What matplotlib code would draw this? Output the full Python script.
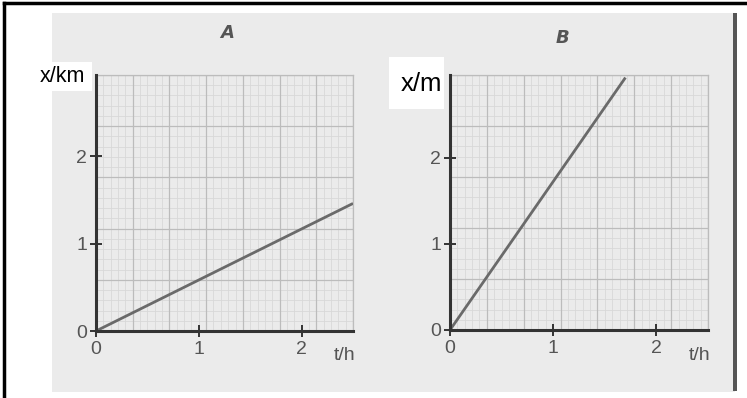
import numpy as np
import matplotlib.pyplot as plt
from matplotlib.patches import Rectangle

# panel A: x in km against t in h
t_a = [0, 2.5]
x_a = [0, 1.46]
# panel B: x in m against t in h
t_b = [0, 1.70]
x_b = [0, 2.93]

ticks = [0, 1, 2]
W, H = 747, 398

fig = plt.figure(figsize=(W / 100, H / 100), dpi=100)
fig.patch.set_facecolor('white')


def px_rect(x0, y0, x1, y1, **kw):
    fig.add_artist(Rectangle((x0 / W, 1 - y1 / H), (x1 - x0) / W, (y1 - y0) / H,
                             transform=fig.transFigure, **kw))


# scanned page background + frame
px_rect(52, 13, 735, 392, facecolor='#ebebeb', edgecolor='none', zorder=0)
px_rect(733, 13, 737, 391, facecolor='#555555', edgecolor='none', zorder=0)
fig.add_artist(plt.Line2D([4 / W, 4 / W], [0, 1 - 3 / H], color='black', lw=2.5,
                          transform=fig.transFigure))
fig.add_artist(plt.Line2D([4 / W, 1], [1 - 3 / H, 1 - 3 / H], color='black', lw=2.5,
                          transform=fig.transFigure))


def panel(box, t, x, ymax, title, title_xy, ylabel, label_box, label_xy, label_size):
    l, r, top, bot = box
    ax = fig.add_axes([l / W, 1 - bot / H, (r - l) / W, (bot - top) / H])
    ax.set_facecolor('#ebebeb')
    ax.set_xlim(0, 2.5)
    ax.set_ylim(0, ymax)
    # graph paper
    xs_min = np.linspace(0, 2.5, 36)
    ys_min = np.linspace(0, ymax, 26)
    ax.vlines(xs_min, 0, ymax, color='#d8d8d8', lw=0.6, zorder=1)
    ax.hlines(ys_min, 0, 2.5, color='#d8d8d8', lw=0.6, zorder=1)
    ax.vlines(xs_min[::5], 0, ymax, color='#bcbcbc', lw=0.9, zorder=1)
    ax.hlines(ys_min[::5], 0, 2.5, color='#bcbcbc', lw=0.9, zorder=1)
    ax.plot(t, x, color='#6a6a6a', lw=2.0, zorder=3, solid_capstyle='butt')
    for s in ['top', 'right']:
        ax.spines[s].set_color('#bcbcbc')
        ax.spines[s].set_linewidth(0.9)
    for s in ['left', 'bottom']:
        ax.spines[s].set_color('#333333')
        ax.spines[s].set_linewidth(2.2)
        ax.spines[s].set_zorder(4)
    ax.set_xticks(ticks)
    ax.set_yticks(ticks)
    ax.tick_params(direction='inout', length=9, width=1.4, color='#333333',
                   labelcolor='#555555', labelsize=14, pad=3)
    ax.tick_params(axis='y', pad=2)
    for lab in ax.get_xticklabels() + ax.get_yticklabels():
        lab.set_fontfamily('Liberation Sans')
    fig.text((r - 8) / W, 1 - 356 / H, 't/h', color='#555555', fontsize=14,
             family='Liberation Sans', ha='center', va='center')
    fig.text(title_xy[0] / W, 1 - title_xy[1] / H, title, color='#555555',
             fontsize=13, style='italic', weight='bold', ha='center', va='center')
    bx0, by0, bx1, by1 = label_box
    px_rect(bx0, by0, bx1, by1, facecolor='white', edgecolor='none', zorder=5)
    fig.text(label_xy[0] / W, 1 - label_xy[1] / H, ylabel, color='black',
             fontsize=label_size, family='Liberation Sans', ha='center',
             va='center', zorder=6)
    return ax


panel((96, 353, 75, 331), t_a, x_a, 2.93, 'A', (227, 33), 'x/km',
      (35, 62, 92, 91), (62, 76), 15.5)
panel((450, 708, 75, 330), t_b, x_b, 2.96, 'B', (562, 38), 'x/m',
      (389, 57, 444, 109), (421, 84), 18.5)

fig.savefig('out.png', dpi=100)
